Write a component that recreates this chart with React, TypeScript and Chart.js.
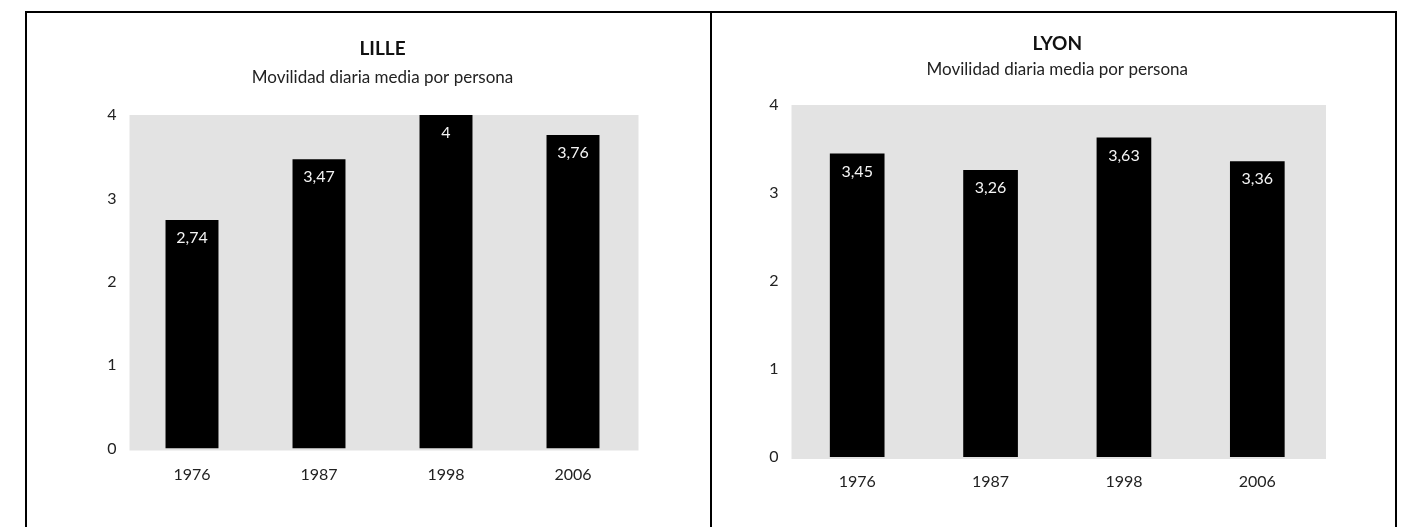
import React, { useEffect, useRef } from "react";
import { Chart, registerables } from "chart.js";

Chart.register(...registerables);

const years = ["1976", "1987", "1998", "2006"];
const lilleValues = [2.74, 3.47, 4, 3.76];
const lyonValues = [3.45, 3.26, 3.63, 3.36];
const yTicks = [0, 1, 2, 3, 4];
const subtitleText = "Movilidad diaria media por persona";

const FONT = "Lato, 'Open Sans', sans-serif";

const bgPlugin = {
  id: "plotBg",
  beforeDatasetsDraw(chart: any) {
    const { ctx, chartArea } = chart;
    ctx.save();
    ctx.fillStyle = "#e3e3e3";
    ctx.fillRect(chartArea.left + 1, chartArea.top, chartArea.right - chartArea.left + 1, chartArea.bottom - chartArea.top + 2);
    ctx.restore();
  },
};

const valueLabelPlugin = {
  id: "valueLabels",
  afterDatasetsDraw(chart: any) {
    const { ctx } = chart;
    const meta = chart.getDatasetMeta(0);
    const data = chart.data.datasets[0].data as number[];
    ctx.save();
    ctx.fillStyle = "#f4f4f4";
    ctx.font = `16px ${FONT}`;
    ctx.textAlign = "center";
    ctx.textBaseline = "middle";
    meta.data.forEach((bar: any, i: number) => {
      const txt = String(data[i]).replace(".", ",");
      ctx.fillText(txt, bar.x, bar.y + 18);
    });
    ctx.restore();
  },
};

type Cfg = {
  title: string;
  values: number[];
  pad: { left: number; right: number; top: number; bottom: number };
  titlePad: { top: number; bottom: number };
  subPad: { top: number; bottom: number };
  xPad: number;
  barPct: number;
};

function BarChart({ cfg, style }: { cfg: Cfg; style: React.CSSProperties }) {
  const ref = useRef<HTMLCanvasElement | null>(null);
  useEffect(() => {
    if (!ref.current) return;
    const chart = new Chart(ref.current, {
      type: "bar",
      data: {
        labels: years,
        datasets: [
          {
            data: cfg.values,
            backgroundColor: "#000000",
            borderWidth: 0,
            categoryPercentage: 1,
            barPercentage: cfg.barPct,
          },
        ],
      },
      options: {
        animation: false,
        responsive: false,
        maintainAspectRatio: false,
        layout: { padding: cfg.pad },
        plugins: {
          legend: { display: false },
          tooltip: { enabled: false },
          title: {
            display: true,
            text: cfg.title,
            fullSize: false,
            color: "#111",
            font: { family: FONT, size: 19, weight: "bold" },
            padding: cfg.titlePad,
          },
          subtitle: {
            display: true,
            text: subtitleText,
            fullSize: false,
            color: "#222",
            font: { family: FONT, size: 17 },
            padding: cfg.subPad,
          },
        },
        scales: {
          x: {
            grid: { display: false, drawTicks: false },
            border: { display: false },
            ticks: { color: "#222", font: { family: FONT, size: 16 }, padding: cfg.xPad },
            afterFit: (s: any) => {
              s.height = 40;
            },
          },
          y: {
            min: 0,
            max: 4,
            afterBuildTicks: (s: any) => {
              s.ticks = yTicks.map((v) => ({ value: v }));
            },
            grid: { display: false, drawTicks: false },
            border: { display: false },
            ticks: { color: "#222", font: { family: FONT, size: 16 }, padding: 12 },
            afterFit: (s: any) => {
              s.width = 40;
            },
          },
        },
      },
      plugins: [bgPlugin, valueLabelPlugin],
    } as any);
    return () => chart.destroy();
  }, [cfg]);
  const w = style.width as number;
  const h = style.height as number;
  return <canvas ref={ref} width={w} height={h} style={{ position: "absolute", ...style }} />;
}

const lilleCfg: Cfg = {
  title: "LILLE",
  values: lilleValues,
  pad: { left: 61.5, right: 72.5, top: 0, bottom: 38.5 },
  titlePad: { top: 23.6, bottom: 7.4 },
  subPad: { top: 0, bottom: 26.8 },
  xPad: 17,
  barPct: 0.417,
};

const lyonCfg: Cfg = {
  title: "LYON",
  values: lyonValues,
  pad: { left: 38.5, right: 72, top: 0, bottom: 30 },
  titlePad: { top: 18.6, bottom: 4.4 },
  subPad: { top: 0, bottom: 24.8 },
  xPad: 15,
  barPct: 0.41,
};

export default function App() {
  const line = { position: "absolute" as const, background: "#000" };
  return (
    <div style={{ position: "absolute", left: 0, top: 0, width: 1407, height: 527, background: "#fff", overflow: "hidden" }}>
      <BarChart cfg={lilleCfg} style={{ left: 27, top: 14, width: 682, height: 513 }} />
      <BarChart cfg={lyonCfg} style={{ left: 712, top: 14, width: 684, height: 513 }} />
      <div style={{ ...line, left: 25, top: 11, width: 1372, height: 2 }} />
      <div style={{ ...line, left: 25, top: 11, width: 2, height: 516 }} />
      <div style={{ ...line, left: 710, top: 11, width: 2, height: 516 }} />
      <div style={{ ...line, left: 1395, top: 11, width: 2, height: 516 }} />
    </div>
  );
}
